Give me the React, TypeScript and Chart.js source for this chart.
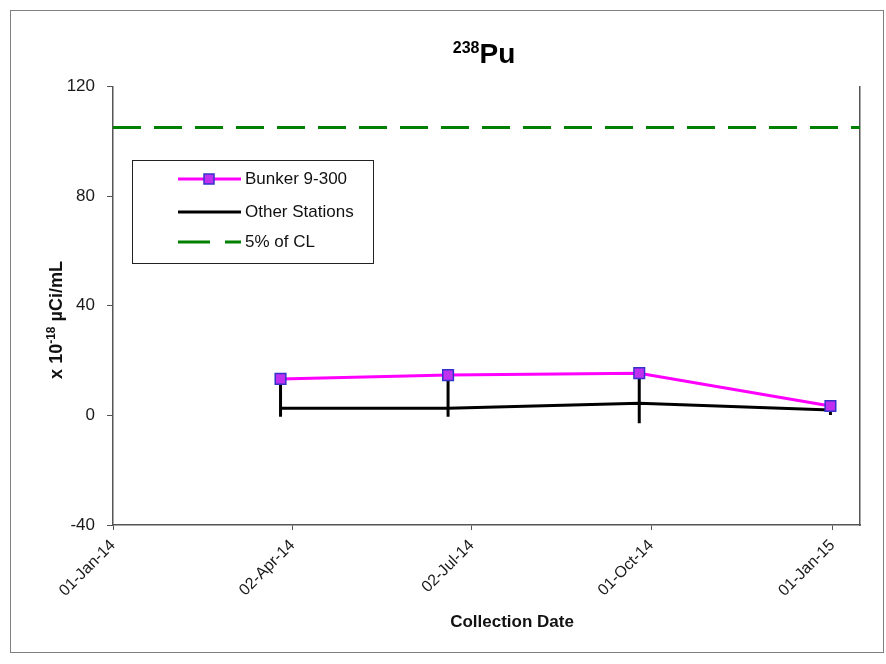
import React, { useEffect, useRef } from 'react';
import { Chart, registerables } from 'chart.js';
Chart.register(...registerables);

// ---- data (x values are days since 01-Jan-14) ----
const xTickDays = [0, 91, 182, 273, 365];
const xTickLabels = ['01-Jan-14', '02-Apr-14', '02-Jul-14', '01-Oct-14', '01-Jan-15'];
const xMin = 0;
const xMax = 379;
const yTicks = [-40, 0, 40, 80, 120];

const collectionDays = [85, 170, 267, 364];
const bunker = [13.3, 14.7, 15.4, 3.4];
const otherStations = [2.6, 2.6, 4.4, 2.0];
const otherLow = [-0.5, -0.5, -2.9, 0.1];
const otherHigh = [13.3, 14.7, 15.4, 3.4];
const clDays = [0, 379];
const clValues = [105, 105];

const FONT = "'Liberation Sans', Arial, sans-serif";
const W = 886;
const H = 664;

export default function App() {
  const ref = useRef<HTMLCanvasElement>(null);

  useEffect(() => {
    if (!ref.current) return;
    const errSets = collectionDays.map((d, i) => ({
      label: 'err' + i,
      data: [
        { x: d, y: otherLow[i] },
        { x: d, y: otherHigh[i] },
      ],
      borderColor: '#000000',
      borderWidth: 3,
      pointRadius: 0,
      fill: false,
    }));
    const chart = new Chart(ref.current, {
      type: 'line',
      data: {
        datasets: [
          {
            label: 'Bunker 9-300',
            data: collectionDays.map((d, i) => ({ x: d, y: bunker[i] })),
            borderColor: '#FF00FF',
            borderWidth: 3,
            pointStyle: 'rect',
            pointRadius: 7.5,
            pointBackgroundColor: '#C030F0',
            pointBorderColor: '#3333CC',
            pointBorderWidth: 1.5,
            fill: false,
          },
          ...errSets,
          {
            label: 'Other Stations',
            data: collectionDays.map((d, i) => ({ x: d, y: otherStations[i] })),
            borderColor: '#000000',
            borderWidth: 3,
            pointRadius: 0,
            fill: false,
          },
          {
            label: '5% of CL',
            data: clDays.map((d, i) => ({ x: d, y: clValues[i] })),
            borderColor: '#008000',
            borderWidth: 3,
            borderDash: [28, 13],
            pointRadius: 0,
            fill: false,
          },
        ] as any,
      },
      options: {
        animation: false,
        responsive: false,
        events: [],
        layout: { padding: { top: 86.5, right: 26, bottom: 0, left: 0 } },
        plugins: {
          legend: { display: false },
          tooltip: { enabled: false },
          title: { display: false },
        },
        scales: {
          x: {
            type: 'linear',
            min: xMin,
            max: xMax,
            afterBuildTicks: (scale: any) => {
              scale.ticks = xTickDays.map((v) => ({ value: v }));
            },
            afterFit: (scale: any) => {
              scale.height = H - 525;
            },
            ticks: {
              autoSkip: false,
              minRotation: 45,
              maxRotation: 45,
              padding: 6,
              color: '#1a1a1a',
              font: { family: FONT, size: 16 },
              callback: (v: any) => {
                const idx = xTickDays.indexOf(Number(v));
                return idx >= 0 ? xTickLabels[idx] : '';
              },
            },
            grid: {
              display: true,
              drawOnChartArea: false,
              drawTicks: true,
              tickLength: 5,
              color: '#555555',
            },
            border: { display: true, color: '#555555', width: 1.5 },
          },
          y: {
            type: 'linear',
            position: 'left',
            min: -40,
            max: 120,
            afterBuildTicks: (scale: any) => {
              scale.ticks = yTicks.map((v) => ({ value: v }));
            },
            afterFit: (scale: any) => {
              scale.width = 113;
            },
            ticks: {
              padding: 12,
              color: '#1a1a1a',
              font: { family: FONT, size: 17 },
            },
            grid: {
              display: true,
              drawOnChartArea: false,
              drawTicks: true,
              tickLength: 6,
              color: '#555555',
            },
            border: { display: true, color: '#555555', width: 1.5 },
          },
          yRight: {
            type: 'linear',
            position: 'right',
            min: -40,
            max: 120,
            afterFit: (scale: any) => {
              scale.width = 0;
            },
            ticks: { display: false },
            grid: { display: false, drawTicks: false },
            border: { display: true, color: '#555555', width: 1.5 },
          },
        },
      } as any,
    });
    return () => chart.destroy();
  }, []);

  const legendRows = [
    { label: 'Bunker 9-300', y: 18 },
    { label: 'Other Stations', y: 51 },
    { label: '5% of CL', y: 81 },
  ];

  return (
    <div
      style={{
        position: 'absolute',
        left: 0,
        top: 0,
        width: W,
        height: H,
        background: '#ffffff',
        fontFamily: FONT,
        overflow: 'hidden',
      }}
    >
      <canvas ref={ref} width={W} height={H} style={{ position: 'absolute', left: 0, top: 0 }} />
      {/* outer frame */}
      <div
        style={{
          position: 'absolute',
          left: 10,
          top: 10,
          width: 872,
          height: 641,
          border: '1px solid #808080',
          pointerEvents: 'none',
        }}
      />
      {/* title */}
      <div
        style={{
          position: 'absolute',
          left: 384,
          top: 40,
          width: 200,
          textAlign: 'center',
          lineHeight: '28px',
          fontSize: 28,
          fontWeight: 'bold',
          color: '#000',
          whiteSpace: 'nowrap',
        }}
      >
        <span style={{ fontSize: 16, position: 'relative', top: -10 }}>238</span>
        <span>Pu</span>
      </div>
      {/* y axis title */}
      <div
        style={{
          position: 'absolute',
          left: 57,
          top: 320,
          transform: 'translate(-50%, -50%) rotate(-90deg)',
          fontSize: 18,
          fontWeight: 'bold',
          color: '#111',
          whiteSpace: 'nowrap',
          lineHeight: '22px',
        }}
      >
        x 10<span style={{ fontSize: 12, position: 'relative', top: -7 }}>-18</span> µCi/mL
      </div>
      {/* x axis title */}
      <div
        style={{
          position: 'absolute',
          left: 512,
          top: 622,
          transform: 'translate(-50%, -50%)',
          fontSize: 17,
          fontWeight: 'bold',
          color: '#111',
          whiteSpace: 'nowrap',
        }}
      >
        Collection Date
      </div>
      {/* legend */}
      <div
        style={{
          position: 'absolute',
          left: 132,
          top: 160,
          width: 240,
          height: 102,
          border: '1px solid #222',
          background: '#fff',
        }}
      >
        <svg width={240} height={102} style={{ position: 'absolute', left: 0, top: 0 }}>
          <line x1={45} y1={18} x2={108} y2={18} stroke="#FF00FF" strokeWidth={3} />
          <rect x={71} y={13} width={10} height={10} fill="#C030F0" stroke="#3333CC" strokeWidth={1.5} />
          <line x1={45} y1={51} x2={108} y2={51} stroke="#000" strokeWidth={3} />
          <line x1={45} y1={81} x2={108} y2={81} stroke="#008000" strokeWidth={3} strokeDasharray="32 15" />
        </svg>
        {legendRows.map((r) => (
          <div
            key={r.label}
            style={{
              position: 'absolute',
              left: 112,
              top: r.y - 10,
              height: 20,
              lineHeight: '20px',
              fontSize: 17,
              color: '#111',
              whiteSpace: 'nowrap',
            }}
          >
            {r.label}
          </div>
        ))}
      </div>
    </div>
  );
}
